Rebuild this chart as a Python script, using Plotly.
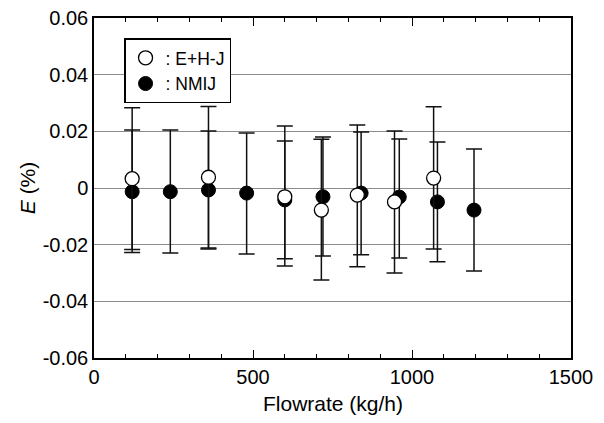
import plotly.graph_objects as go

# NMIJ data
nmij_x = [120, 240, 360, 480, 600, 720, 840, 960, 1080, 1195]
nmij_y = [-0.0013, -0.0013, -0.0007, -0.0018, -0.0042, -0.0031, -0.0018, -0.0032, -0.0049, -0.0078]
nmij_err_plus = [0.0218, 0.0218, 0.0208, 0.0212, 0.0208, 0.0211, 0.0216, 0.0205, 0.0211, 0.0216]
nmij_err_minus = [0.0215, 0.0216, 0.0208, 0.0215, 0.0208, 0.0209, 0.0218, 0.0215, 0.0211, 0.0215]

# E+H-J data
ehj_x = [120, 360, 600, 715, 828, 945, 1068]
ehj_y = [0.0033, 0.0038, -0.0031, -0.0078, -0.0025, -0.0049, 0.0035]
ehj_err_plus = [0.0250, 0.0250, 0.0250, 0.0250, 0.0247, 0.0250, 0.0252]
ehj_err_minus = [0.0250, 0.0250, 0.0244, 0.0247, 0.0253, 0.0251, 0.0250]

ytick_vals = [-0.06, -0.04, -0.02, 0, 0.02, 0.04, 0.06]
ytick_text = ["-0.06", "-0.04", "-0.02", "0", "0.02", "0.04", "0.06"]
xtick_vals = [0, 500, 1000, 1500]

fig = go.Figure()

fig.add_trace(go.Scatter(
    x=nmij_x, y=nmij_y, mode="markers", name=": NMIJ",
    marker=dict(symbol="circle", size=14, color="black", line=dict(color="black", width=1)),
    error_y=dict(type="data", array=nmij_err_plus, arrayminus=nmij_err_minus,
                 color="#111111", thickness=1.5, width=8),
))
fig.add_trace(go.Scatter(
    x=ehj_x, y=ehj_y, mode="markers", name=": E+H-J",
    marker=dict(symbol="circle", size=14, color="white", line=dict(color="black", width=1.3)),
    error_y=dict(type="data", array=ehj_err_plus, arrayminus=ehj_err_minus,
                 color="#111111", thickness=1.5, width=8),
))

# the page adds an 8 px body margin, so the figure is drawn slightly smaller
fig.update_layout(
    width=596, height=415,
    margin=dict(l=86, r=33, t=10, b=65),
    plot_bgcolor="white", paper_bgcolor="white",
    font=dict(family="Liberation Sans, Arial, sans-serif", color="black", size=20),
    showlegend=True,
    legend=dict(
        x=0.063, y=0.94, xanchor="left", yanchor="top",
        bordercolor="black", borderwidth=1.5, bgcolor="white",
        font=dict(size=17.5), traceorder="reversed",
        tracegroupgap=0, itemwidth=30,
    ),
    xaxis=dict(
        range=[0, 1500], tickvals=xtick_vals, ticks="inside", ticklen=8, tickwidth=1.2,
        tickcolor="black", automargin=False, ticklabeloverflow="allow",
        minor=dict(dtick=100, ticks="inside", ticklen=4, tickwidth=1.2, tickcolor="black"),
        showline=True, linecolor="black", linewidth=1.5, mirror="ticks",
        showgrid=False, zeroline=False,
    ),
    yaxis=dict(
        range=[-0.06, 0.06], tickvals=ytick_vals, ticktext=ytick_text, ticks="",
        automargin=False, ticklabeloverflow="allow",
        showline=True, linecolor="black", linewidth=1.5, mirror=True,
        showgrid=True, gridcolor="#8c8c8c", gridwidth=1, zeroline=False,
    ),
    annotations=[
        dict(text="Flowrate (kg/h)", xref="paper", yref="paper", x=0.5, y=-0.135,
             xanchor="center", yanchor="middle", showarrow=False, font=dict(size=21)),
        dict(text="<i>E</i> (%)", xref="paper", yref="paper", x=-0.14, y=0.5,
             xanchor="center", yanchor="middle", showarrow=False, textangle=-90,
             font=dict(size=21)),
    ],
)

fig.write_html("out.html")
